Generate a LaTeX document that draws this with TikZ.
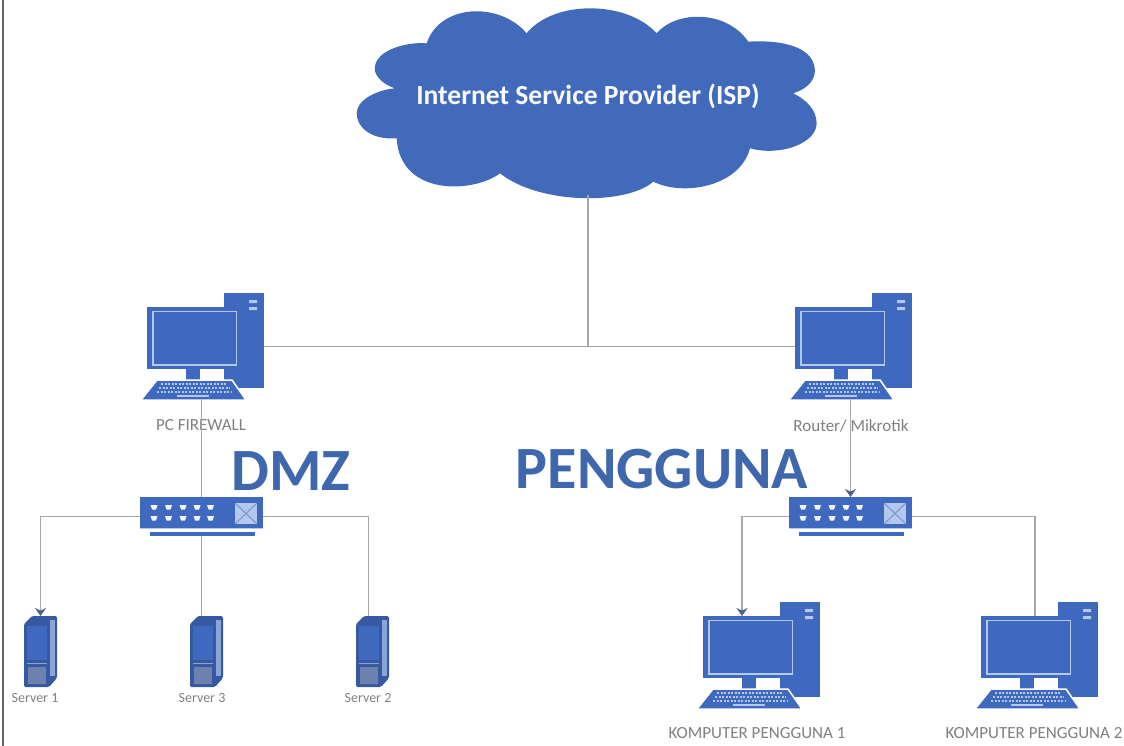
\documentclass[tikz,border=0pt]{standalone}
\usepackage{fontspec}
\setmainfont{Carlito}
\usetikzlibrary{arrows.meta}
\definecolor{iconblue}{HTML}{3F69BE}
\definecolor{titleblue}{HTML}{3F67AE}
\definecolor{iconlight}{HTML}{B4C7EC}
\definecolor{wirecol}{HTML}{A3A8B0}
\definecolor{labelcol}{HTML}{808080}
\definecolor{tipcol}{HTML}{4F6288}
\tikzset{
  ghost/.style={inner sep=0pt,outer sep=0pt,minimum width=#1},
  wire/.style={draw=wirecol,line width=1.6pt},
  awire/.style={wire,-{Stealth[length=8pt,width=11pt,color=tipcol]}},
  lbl/.style={text=labelcol,inner sep=0pt,font=\fontsize{17}{19}\selectfont},
  lblsmall/.style={lbl,font=\fontsize{14}{16}\selectfont},
  bigtitle/.style={text=titleblue,inner sep=0pt,font=\bfseries\fontsize{60}{62}\selectfont},
  computer/.pic={
    \fill[iconblue] (77,-14) rectangle (117,81);
    \fill[iconlight] (102,-7) rectangle (110,-4) (102,0) rectangle (110,3);
    \fill[white] (53,62) rectangle (77,73);
    \fill[iconblue] (39,62) rectangle (53,74);
    \fill[iconblue] (0,0) rectangle (93,62);
    \draw[iconlight,line width=1.4pt] (6,4.5) rectangle (89.5,58);
    \draw[white,line width=1.5pt,fill=iconblue] (10,73) -- (85,73) -- (99,93) -- (-6,93) -- cycle;
    \foreach \r/\a/\b in {77/14/80,81/12/83,85/10/85}
      \draw[iconlight,line width=2pt,dash pattern=on 2pt off 1.5pt] (\a,\r) -- (\b,\r);
    \fill[iconlight] (30,87.5) rectangle (62,90);
    \node[ghost=93pt,minimum height=62pt] (-mon) at (46.5,31) {};
    \node[ghost=117pt,minimum height=107pt] (-body) at (58.5,39.5) {};
  },
  netswitch/.pic={
    \fill[iconblue] (0,0) rectangle (123,31);
    \fill[iconblue] (10,35) rectangle (115,39);
    \draw[iconlight,line width=.8pt] (0,31.5) -- (123,31.5);
    \foreach \cx in {14,28.5,43,57,70.5}
      \foreach \cy in {10,21}
        \fill[white!80!iconlight] (\cx-3.5,\cy-2) -- (\cx+3.5,\cy-2) -- (\cx+2,\cy+2.5) -- (\cx-2,\cy+2.5) -- cycle;
    \fill[iconlight] (95,6) rectangle (117,27);
    \draw[iconblue!70,line width=1pt] (95,6) -- (117,27) (95,27) -- (117,6);
    \node[ghost=123pt,minimum height=39pt] (-box) at (61.5,19.5) {};
  },
  server/.pic={
    \fill[iconblue!85!black,rounded corners=1.5pt] (0,8) -- (8,0) -- (33,0) -- (33,62) -- (25,71) -- (0,71) -- cycle;
    \fill[iconblue!60!white] (26,4) rectangle (31,60);
    \fill[iconblue] (3,10) rectangle (23,44);
    \draw[iconblue!60!white,line width=.8pt] (3,47) -- (23,47);
    \fill[iconblue!55!gray!90!white] (4,51) rectangle (22,68);
    \node[ghost=33pt,minimum height=71pt] (-box) at (16.5,35.5) {};
  }
}
\begin{document}
\begin{tikzpicture}[x=1pt,y=-1pt]
\useasboundingbox (0,0) rectangle (1124,746);
\fill[white] (0,0) rectangle (1124,746);
\coordinate (frametop) at (3,0);
\coordinate (framebot) at (3,746);
\draw[draw=black!60,line width=2.4pt] (frametop) -- (framebot);

% cloud
\begin{scope}[shift={(340,0)},x=.3333pt,y=-.3333pt]
\fill[iconblue!95!gray]
 (560,100) .. controls (640,0) and (860,0) .. (950,100)
 .. controls (1010,30) and (1160,30) .. (1225,125)
 .. controls (1300,120) and (1420,130) .. (1425,210)
 .. controls (1425,250) and (1390,270) .. (1360,280)
 .. controls (1400,300) and (1430,330) .. (1430,370)
 .. controls (1430,430) and (1320,470) .. (1230,445)
 .. controls (1200,560) and (1030,590) .. (940,545)
 .. controls (860,615) and (600,615) .. (480,520)
 .. controls (400,580) and (180,590) .. (170,415)
 .. controls (90,420) and (50,380) .. (50,340)
 .. controls (50,300) and (110,270) .. (165,265)
 .. controls (120,250) and (100,220) .. (105,200)
 .. controls (110,150) and (200,125) .. (260,130)
 .. controls (300,10) and (480,5) .. (560,100) -- cycle;
\end{scope}
\node[inner sep=0pt,minimum width=454pt,minimum height=187pt,text=white!92!iconlight,font=\bfseries\fontsize{27.6}{30}\selectfont] (isp) at (588,101.5) {\raisebox{-3pt}[0pt][0pt]{Internet Service Provider (ISP)}};

% icons
\pic (fw) at (147,307) {computer};
\pic (rt) at (795,307) {computer};
\pic (kom1) at (703,616) {computer};
\pic (kom2) at (981,616) {computer};
\pic (sw1) at (140,497) {netswitch};
\pic (sw2) at (789,497) {netswitch};
\pic (srv1) at (24,616) {server};
\pic (srv2) at (190,616) {server};
\pic (srv3) at (356,616) {server};

% labels
\node[lbl] (lfw) at (201,425) {PC FIREWALL};
\node[lbl] (lrt) at (851,426) {Router/ Mikrotik};
\node[lbl] (lk1) at (757,733) {KOMPUTER PENGGUNA 1};
\node[lbl] (lk2) at (1034,733) {KOMPUTER PENGGUNA 2};
\node[lblsmall] (ls1) at (35,698) {Server 1};
\node[lblsmall] (ls2) at (202,698) {Server 3};
\node[lblsmall] (ls3) at (368,698) {Server 2};
\node[bigtitle] (dmz) at (291,471) {DMZ};
\node[bigtitle] (pen) at (662,469) {PENGGUNA};

% connectors
\draw[wire] (isp.south) -- (isp.south |- fw-body.east);
\draw[wire] (fw-body.east) -- (rt-body.west);
\draw[wire] (sw1-box.north |- fw-body.south) -- (sw1-box.north);
\draw[awire] (sw2-box.north |- rt-body.south) -- (sw2-box.north);
\draw[awire] (sw1-box.west) -| (srv1-box.north);
\draw[wire] (sw1-box.south) -- (sw1-box.south |- srv2-box.north);
\draw[wire] (sw1-box.east) -| ([xshift=-4pt]srv3-box.north);
\draw[awire] (sw2-box.west) -| ([xshift=-7.5pt]kom1-mon.north);
\draw[wire] (sw2-box.east) -| ([xshift=7.5pt]kom2-mon.north);
\end{tikzpicture}
\end{document}
